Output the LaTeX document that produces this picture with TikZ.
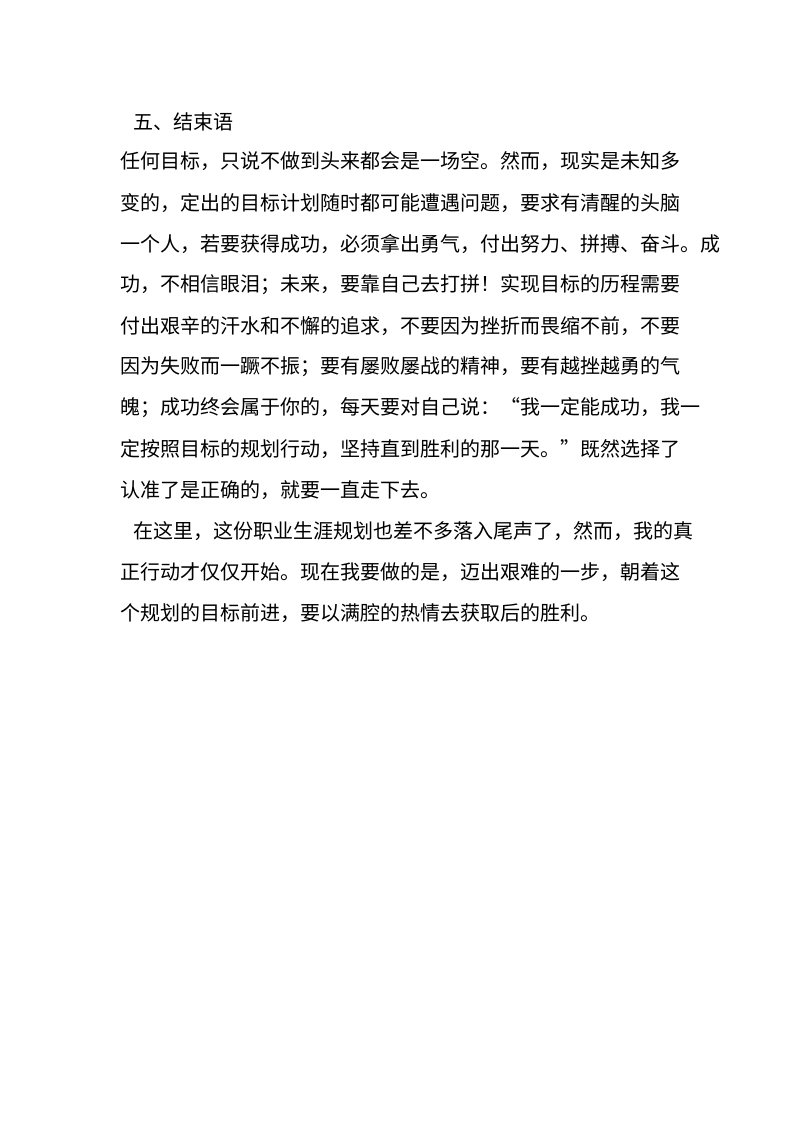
\documentclass[tikz,border=0pt]{standalone}
\usepackage{fontspec}
\newfontfamily\cjk{Noto Sans CJK SC}
\begin{document}
\begin{tikzpicture}[x=0.75pt,y=-0.75pt,
  ln/.style={anchor=west,inner sep=0pt,font=\cjk\fontsize{15}{18}\selectfont}]
\useasboundingbox (0,0) rectangle (800,1132);
\node[ln] (t0) at (133,122) {五、结束语};
\node[ln] (t1) at (120,161) {任何目标，只说不做到头来都会是一场空。然而，现实是未知多};
\node[ln] (t2) at (120,203) {变的，定出的目标计划随时都可能遭遇问题，要求有清醒的头脑};
\node[ln] (t3) at (120,244) {一个人，若要获得成功，必须拿出勇气，付出努力、拼搏、奋斗。成};
\node[ln] (t4) at (120,285) {功，不相信眼泪；未来，要靠自己去打拼！实现目标的历程需要};
\node[ln] (t5) at (120,326) {付出艰辛的汗水和不懈的追求，不要因为挫折而畏缩不前，不要};
\node[ln] (t6) at (120,367) {因为失败而一蹶不振；要有屡败屡战的精神，要有越挫越勇的气};
\node[ln] (t7) at (120,408) {魄；成功终会属于你的，每天要对自己说：“我一定能成功，我一};
\node[ln] (t8) at (120,449) {定按照目标的规划行动，坚持直到胜利的那一天。”既然选择了};
\node[ln] (t9) at (120,490) {认准了是正确的，就要一直走下去。};
\node[ln] (t10) at (133,531) {在这里，这份职业生涯规划也差不多落入尾声了，然而，我的真};
\node[ln] (t11) at (120,572) {正行动才仅仅开始。现在我要做的是，迈出艰难的一步，朝着这};
\node[ln] (t12) at (120,613) {个规划的目标前进，要以满腔的热情去获取后的胜利。};
\end{tikzpicture}
\end{document}
